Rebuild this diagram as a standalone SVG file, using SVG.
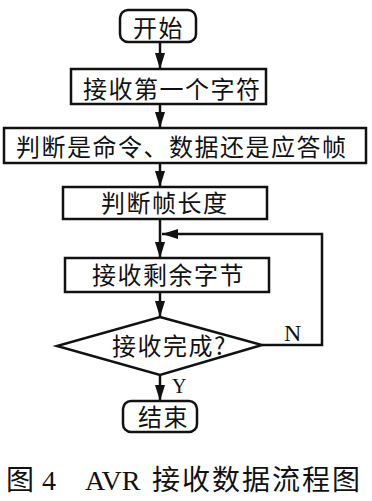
<svg xmlns="http://www.w3.org/2000/svg" width="372" height="501" viewBox="0 0 372 501">
<style>
.box{fill:#fff;stroke:#111;stroke-width:2.5}
.ln{fill:none;stroke:#111;stroke-width:2.5}
.t{font-family:"Noto Sans CJK SC","Noto Sans CJK JP",sans-serif;font-size:24px;fill:#111;letter-spacing:1.5px}
.lat{font-family:"Liberation Serif",serif;font-size:22px;fill:#111}
.cap{font-family:"Noto Sans CJK SC",sans-serif;font-size:28px;fill:#111;letter-spacing:2px}
.capl{font-family:"Liberation Serif",serif;font-size:28px;fill:#111}
</style>
<defs>
<marker id="ah" viewBox="0 0 16 10" refX="16" refY="5" markerWidth="16" markerHeight="10" markerUnits="userSpaceOnUse" orient="auto">
<path d="M0,0 L16,5 L0,10 z" fill="#111"/>
</marker>
</defs>
<rect width="372" height="501" fill="#fff"/>
<g id="connectors">
<line class="ln" x1="160" y1="42" x2="160" y2="69" marker-end="url(#ah)"/>
<line class="ln" x1="160" y1="104" x2="160" y2="128" marker-end="url(#ah)"/>
<line class="ln" x1="160" y1="163" x2="160" y2="187" marker-end="url(#ah)"/>
<line class="ln" x1="160" y1="219" x2="160" y2="258" marker-end="url(#ah)"/>
<line class="ln" x1="160" y1="292" x2="160" y2="317" marker-end="url(#ah)"/>
<line class="ln" x1="160" y1="375" x2="160" y2="401" marker-end="url(#ah)"/>
<polyline class="ln" points="262,345 322,345 322,234 162,234" marker-end="url(#ah)"/>
<text class="lat" x="284" y="341" style="font-size:24px">N</text>
<text class="lat" x="172" y="393" style="font-size:20px">Y</text>
</g>
<g id="start">
<rect class="box" x="120" y="10" width="76" height="32" rx="8"/>
<text class="t" x="133" y="37">开始</text>
</g>
<g id="recv-first">
<rect class="box" x="71" y="69" width="195" height="35"/>
<text class="t" x="83" y="98">接收第一个字符</text>
</g>
<g id="judge-type">
<rect class="box" x="4" y="128" width="362" height="35"/>
<text class="t" x="16" y="156">判断是命令、数据还是应答帧</text>
</g>
<g id="judge-len">
<rect class="box" x="63" y="187" width="204" height="32"/>
<text class="t" x="101" y="212">判断帧长度</text>
</g>
<g id="recv-rest">
<rect class="box" x="65" y="258" width="204" height="34"/>
<text class="t" x="92" y="284">接收剩余字节</text>
</g>
<g id="done">
<polygon class="box" points="160,317 262,345 160,375 57,346"/>
<text class="t" x="112" y="355">接收完成?</text>
</g>
<g id="end">
<rect class="box" x="123" y="401" width="74" height="31" rx="8"/>
<text class="t" x="138" y="426">结束</text>
</g>
<g id="caption">
<text class="cap" x="6" y="490">图</text>
<text class="capl" x="42" y="490">4</text>
<text class="capl" x="85" y="490">AVR</text>
<text class="cap" x="152" y="490">接收数据流程图</text>
</g>
</svg>
